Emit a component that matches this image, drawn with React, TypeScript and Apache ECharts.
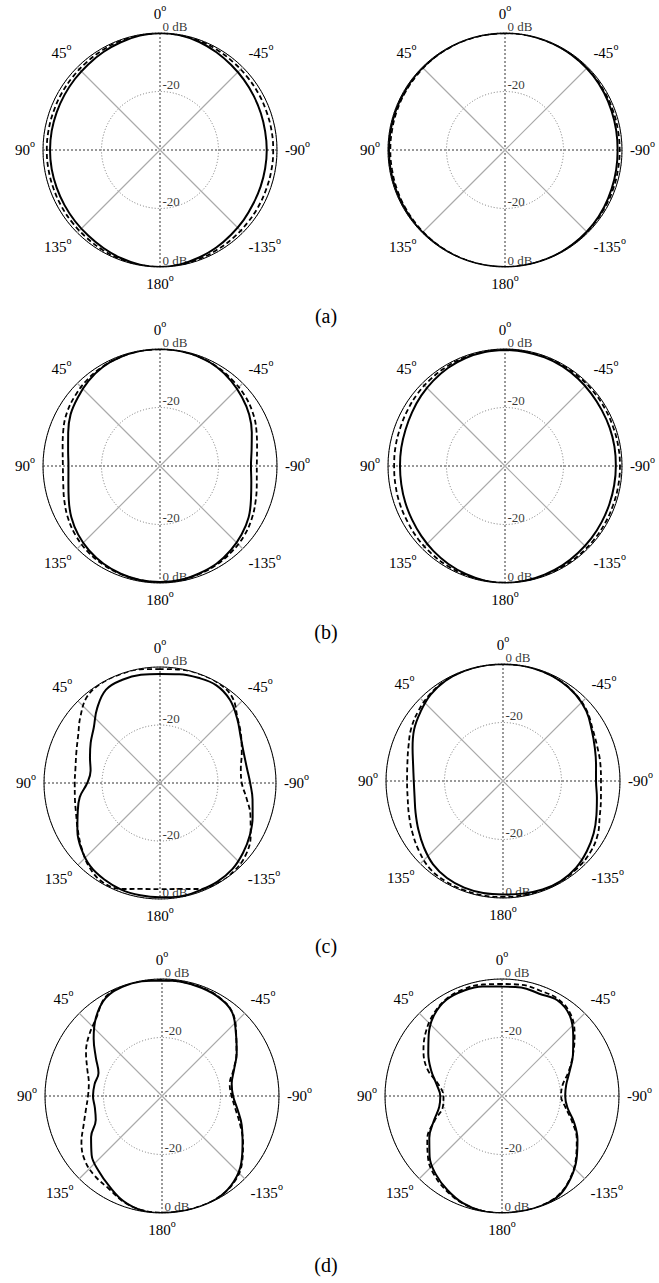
import React, { useEffect, useRef } from "react";
import * as echarts from "echarts";

// ---------- data ----------
const ANGLES = [0, 10, 20, 30, 40, 50, 60, 70, 80, 90, 100, 110, 120, 130, 140, 150, 160, 170,
  180, 190, 200, 210, 220, 230, 240, 250, 260, 270, 280, 290, 300, 310, 320, 330, 340, 350];

const A_LEFT_SOLID = [0, -0.3, -0.8, -1.3, -1.8, -2.1, -2.3, -2.4, -2.4, -2.4, -2.4, -2.4, -2.3, -2.1, -1.8, -1.3, -0.7, -0.2,
  0, -0.3, -0.9, -1.5, -2.2, -2.7, -3.2, -3.4, -3.5, -3.5, -3.5, -3.3, -3.0, -2.6, -2.1, -1.4, -0.7, -0.2];
const A_LEFT_DASHED = [0, -0.1, -0.3, -0.6, -0.9, -1.1, -1.2, -1.3, -1.3, -1.3, -1.3, -1.3, -1.2, -1.1, -0.9, -0.6, -0.3, -0.1,
  0, -0.1, -0.4, -0.7, -0.9, -1.1, -1.2, -1.3, -1.3, -1.3, -1.3, -1.3, -1.2, -1.1, -0.9, -0.6, -0.3, -0.1];
const A_RIGHT_SOLID = [0, 0, 0, -0.1, -0.2, -0.2, -0.3, -0.3, -0.3, -0.3, -0.3, -0.3, -0.3, -0.2, -0.2, -0.1, 0, 0,
  0, 0, -0.1, -0.2, -0.4, -0.6, -0.9, -1.2, -1.4, -1.5, -1.4, -1.2, -0.9, -0.6, -0.4, -0.2, -0.1, 0];
const A_RIGHT_DASHED = [0, -0.1, -0.1, -0.2, -0.3, -0.5, -0.6, -0.7, -0.8, -0.8, -0.8, -0.7, -0.6, -0.5, -0.3, -0.2, -0.1, 0,
  0, -0.1, -0.1, -0.2, -0.3, -0.5, -0.6, -0.7, -0.8, -0.8, -0.8, -0.7, -0.6, -0.5, -0.3, -0.2, -0.1, 0];

const B_LEFT_SOLID = [0, -0.1, -0.4, -0.9, -2.0, -3.4, -4.7, -6.6, -8.1, -8.7, -8.2, -6.8, -5.0, -3.5, -2.3, -1.4, -0.8, -0.4,
  -0.3, -0.4, -0.9, -1.4, -2.4, -3.6, -5.0, -6.9, -8.3, -8.9, -8.2, -6.6, -4.8, -3.4, -2.1, -1.0, -0.4, -0.1];
const B_LEFT_DASHED = [0, -0.1, -0.4, -0.8, -1.4, -2.3, -3.3, -4.8, -6.2, -6.8, -6.4, -5.2, -3.8, -2.6, -1.7, -1.1, -0.7, -0.4,
  -0.3, -0.4, -0.7, -1.1, -1.8, -2.6, -3.8, -5.2, -6.4, -6.9, -6.3, -4.9, -3.4, -2.3, -1.6, -0.9, -0.4, -0.1];
const B_RIGHT_SOLID = [-0.3, -0.4, -0.7, -1.2, -1.9, -2.6, -3.3, -3.8, -4.0, -4.1, -4.0, -3.7, -3.3, -2.7, -2.0, -1.3, -0.7, -0.2,
  0, -0.2, -0.5, -0.8, -1.2, -1.5, -1.8, -2.0, -2.1, -2.1, -2.0, -1.9, -1.8, -1.5, -1.1, -0.7, -0.5, -0.4];
const B_RIGHT_DASHED = [-0.1, -0.2, -0.4, -0.6, -0.9, -1.2, -1.6, -1.9, -2.0, -2.1, -2.0, -1.8, -1.6, -1.2, -0.9, -0.6, -0.4, -0.2,
  -0.1, -0.1, -0.2, -0.3, -0.4, -0.5, -0.6, -0.7, -0.7, -0.7, -0.7, -0.7, -0.6, -0.5, -0.4, -0.3, -0.2, -0.1];

const C_LEFT_SOLID = [-2.4, -2.1, -2.1, -2.8, -6.3, -10.2, -12.4, -14.3, -15.7, -14.9, -11.9, -9.8, -7.1, -4.6, -2.6, -1.6, -0.9, -0.7,
  -0.6, -0.3, -0.5, -0.6, -1.2, -2.6, -4.2, -6.0, -7.6, -8.9, -9.6, -9.3, -7.9, -5.3, -2.5, -1.1, -1.4, -1.9];
const C_LEFT_DASHED = [-0.7, -0.2, -0.1, -0.1, -1.0, -4.2, -7.4, -9.3, -10.4, -10.6, -10.2, -9.2, -7.3, -4.8, -2.1, -0.5, -1.1, -2.9,
  -3.4, -2.9, -1.1, -0.1, -0.3, -1.4, -3.9, -6.8, -9.7, -11.8, -11.7, -10.0, -7.7, -5.1, -1.3, -0.1, 0, -0.3];
const C_RIGHT_SOLID = [0, 0, -0.1, -0.5, -1.5, -3.2, -4.9, -7.1, -8.8, -9.5, -9.3, -8.2, -6.6, -4.7, -2.8, -1.7, -1.2, -1.1,
  -1.2, -0.9, -0.5, -0.5, -1.2, -2.6, -4.2, -6.0, -7.4, -8.2, -7.7, -6.6, -5.0, -2.8, -1.4, -0.6, -0.2, 0];
const C_RIGHT_DASHED = [0, 0, -0.1, -0.4, -1.2, -2.4, -3.8, -5.6, -6.8, -7.2, -6.9, -5.8, -4.3, -2.6, -1.0, -0.5, -0.4, -0.3,
  -0.4, -0.3, -0.3, -0.4, -0.8, -1.4, -2.7, -4.8, -6.0, -6.5, -6.2, -5.7, -4.6, -2.6, -1.3, -0.6, -0.2, 0];

const D_LEFT_SOLID = [-0.5, -0.2, -0.3, -1.4, -4.9, -9.5, -13.9, -16.9, -16.6, -16.4, -16.7, -15.9, -12.0, -8.6, -6.4, -4.2, -1.7, -0.3,
  0, 0, 0, -0.3, -1.8, -4.6, -8.2, -11.0, -13.8, -15.7, -15.8, -13.8, -10.5, -7.0, -2.7, -1.1, -0.6, -0.4];
const D_LEFT_DASHED = [-0.3, -0.1, 0, -1.1, -5.1, -7.5, -10.0, -12.8, -14.6, -14.7, -13.6, -11.5, -8.2, -5.6, -4.3, -3.5, -1.5, -0.4,
  -0.1, -0.1, -0.1, -0.4, -1.6, -4.3, -8.0, -11.6, -14.5, -16.2, -16.5, -14.0, -10.6, -6.9, -2.6, -1.0, -0.5, -0.4];
const D_RIGHT_SOLID = [-2.6, -2.0, -1.7, -2.0, -3.9, -7.3, -10.9, -14.2, -17.3, -18.9, -18.2, -15.2, -11.3, -7.7, -4.9, -2.8, -1.0, -0.1,
  0, 0, -0.1, -0.8, -3.4, -6.7, -10.2, -13.8, -17.3, -18.4, -17.7, -15.4, -12.0, -8.2, -4.0, -2.2, -2.8, -2.3];
const D_RIGHT_DASHED = [-1.7, -1.3, -1.2, -1.8, -3.5, -6.0, -9.0, -12.8, -18.0, -20.0, -19.5, -15.5, -10.5, -7.0, -4.3, -2.4, -0.9, -0.2,
  0, 0, -0.2, -1.1, -3.6, -7.0, -10.5, -14.5, -18.0, -19.8, -19.0, -15.8, -12.0, -7.6, -3.5, -1.7, -1.7, -1.4];

const SOLID_CURVES = [A_LEFT_SOLID, A_RIGHT_SOLID, B_LEFT_SOLID, B_RIGHT_SOLID, C_LEFT_SOLID, C_RIGHT_SOLID, D_LEFT_SOLID, D_RIGHT_SOLID];
const DASHED_CURVES = [A_LEFT_DASHED, A_RIGHT_DASHED, B_LEFT_DASHED, B_RIGHT_DASHED, C_LEFT_DASHED, C_RIGHT_DASHED, D_LEFT_DASHED, D_RIGHT_DASHED];

const DB_MIN = -40;
const DB_MAX = 0;
const DB_STEP = 20;
const ANGLE_TICKS = [0, 45, 90, 135, 180, 225, 270, 315];
const ANGLE_TICK_LABELS = ["0", "45", "90", "135", "180", "-135", "-90", "-45"];
const RING_LABEL_POINTS = [[0, 0], [-20, 0], [-20, 180], [0, 180]]; // [dB, angle]
const RING_LABEL_TEXTS = ["0 dB", "-20", "-20", "0 dB"];
const DOTTED_SPOKES = [[0, 180], [90, 270]];
const GRAY_SPOKES = [[45, 225], [135, 315]];
const PANEL_LABELS = ["(a)", "(b)", "(c)", "(d)"];

// ---------- layout ----------
const W = 659;
const H = 1283;
const PANELS = [
  { c: [160, 150], r: 117 }, { c: [505, 150], r: 117 },
  { c: [160, 466], r: 117 }, { c: [505, 466], r: 117 },
  { c: [160, 783], r: 116 }, { c: [503, 781], r: 117 },
  { c: [162, 1096], r: 117 }, { c: [502, 1096], r: 117 },
];
const PANEL_LABEL_X = 326;
const PANEL_LABEL_Y = [316, 632, 946, 1265];
const SERIF = "Liberation Serif";

function angleLabel(v: number): string {
  const k = ANGLE_TICKS.indexOf(v);
  if (k < 0) return "";
  const t = ANGLE_TICK_LABELS[k];
  return v === 0 ? `{z|${t}}{t|o}` : `{n|${t}}{s|o}`;
}

function buildOption() {
  const polar = PANELS.map((p) => ({ center: p.c, radius: p.r }));
  const angleAxis = PANELS.map((_, i) => ({
    polarIndex: i,
    type: "value",
    min: 0,
    max: 360,
    interval: 45,
    startAngle: 90,
    clockwise: false,
    axisLine: { show: true, lineStyle: { color: "#000", width: 1 } },
    axisTick: { show: false },
    splitLine: { show: false },
    axisLabel: {
      show: true,
      margin: 8,
      fontFamily: SERIF,
      color: "#000",
      formatter: (v: number) => angleLabel(v),
      rich: {
        n: { fontSize: 15, lineHeight: 17, fontFamily: SERIF, color: "#000" },
        s: { fontSize: 10, lineHeight: 4, fontFamily: SERIF, color: "#000", padding: [0, 0, 13, 0] },
        z: { fontSize: 15, lineHeight: 17, fontFamily: SERIF, color: "#000", padding: [0, 0, 5, 0] },
        t: { fontSize: 10, lineHeight: 4, fontFamily: SERIF, color: "#000", padding: [0, 0, 18, 0] },
      },
    },
  }));
  const radiusAxis = PANELS.map((_, i) => ({
    polarIndex: i,
    type: "value",
    min: DB_MIN,
    max: DB_MAX,
    interval: DB_STEP,
    axisLine: { show: false },
    axisTick: { show: false },
    axisLabel: { show: false },
    splitLine: { show: true, showMaxLine: false, lineStyle: { color: "#777", width: 1, type: [1, 2] } },
  }));

  const series: any[] = [];
  PANELS.forEach((_, i) => {
    DOTTED_SPOKES.forEach((s) => {
      series.push({
        type: "line", coordinateSystem: "polar", polarIndex: i, clip: false, silent: true,
        symbol: "none", z: 1,
        lineStyle: { color: "#333", width: 1, type: [2, 2] },
        data: [[DB_MAX, s[0]], [DB_MIN, s[0]], [DB_MAX, s[1]]],
      });
    });
    GRAY_SPOKES.forEach((s) => {
      series.push({
        type: "line", coordinateSystem: "polar", polarIndex: i, clip: false, silent: true,
        symbol: "none", z: 1,
        lineStyle: { color: "#aaa", width: 1.2 },
        data: [[DB_MAX, s[0]], [DB_MIN, s[0]], [DB_MAX, s[1]]],
      });
    });
    const dashed = DASHED_CURVES[i];
    series.push({
      type: "line", coordinateSystem: "polar", polarIndex: i, clip: false, silent: true,
      symbol: "none", smooth: 0.4, z: 3,
      lineStyle: { color: "#000", width: 1.8, type: [5, 3] },
      data: ANGLES.map((a, k) => [dashed[k], a]).concat([[dashed[0], 360]]),
    });
    const solid = SOLID_CURVES[i];
    series.push({
      type: "line", coordinateSystem: "polar", polarIndex: i, clip: false, silent: true,
      symbol: "none", smooth: 0.4, z: 4,
      lineStyle: { color: "#000", width: 2 },
      data: ANGLES.map((a, k) => [solid[k], a]).concat([[solid[0], 360]]),
    });
    series.push({
      type: "scatter", coordinateSystem: "polar", polarIndex: i, silent: true,
      symbolSize: 1, z: 5,
      itemStyle: { color: "rgba(0,0,0,0)" },
      label: {
        show: true, position: "right", distance: 2, offset: [0, -7],
        fontSize: 13, fontFamily: SERIF, color: "#000",
        formatter: (p: any) => RING_LABEL_TEXTS[p.dataIndex],
      },
      data: RING_LABEL_POINTS,
    });
  });

  const graphic = PANEL_LABELS.map((t, i) => ({
    type: "text",
    x: PANEL_LABEL_X,
    y: PANEL_LABEL_Y[i],
    style: {
      text: t, fontSize: 20, fontFamily: SERIF, fill: "#000",
      textAlign: "center", textVerticalAlign: "middle", align: "center", verticalAlign: "middle",
    },
  }));

  return {
    animation: false,
    backgroundColor: "#fff",
    textStyle: { fontFamily: SERIF },
    polar, angleAxis, radiusAxis, series, graphic,
  };
}

export default function App() {
  const ref = useRef<HTMLDivElement>(null);
  useEffect(() => {
    document.body.style.margin = "0";
    if (!ref.current) return;
    const chart = echarts.init(ref.current, undefined, { renderer: "svg" });
    chart.setOption(buildOption() as any);
    return () => chart.dispose();
  }, []);
  return <div ref={ref} style={{ width: W, height: H }} />;
}
